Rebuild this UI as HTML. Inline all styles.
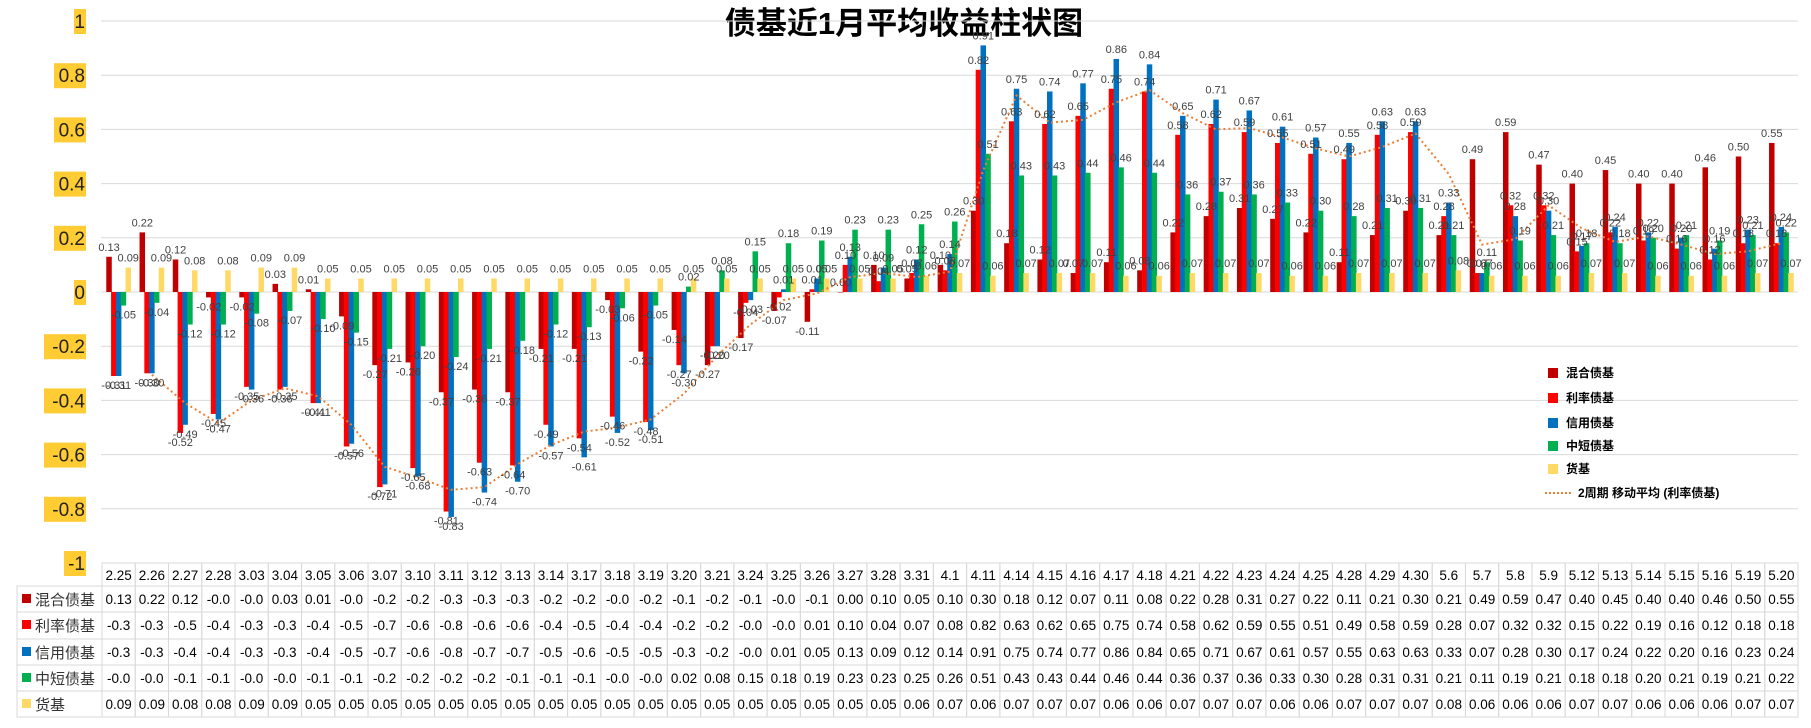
<!DOCTYPE html>
<html><head><meta charset="utf-8"><style>
html,body{margin:0;padding:0;background:#fff;}
svg{display:block;font-family:"Liberation Sans","Noto Sans CJK SC",sans-serif;}
</style></head><body>
<svg id="chart" width="1811" height="728" viewBox="0 0 1811 728" xmlns="http://www.w3.org/2000/svg">
<text x="904" y="34" text-anchor="middle" font-size="31" font-weight="bold" fill="#000">债基近1月平均收益柱状图</text>
<g id="grid"></g><g id="yaxis"></g><g id="bars"></g><g id="ma"></g><g id="labels"></g><g id="table"></g><g id="legend"></g>
</svg>
<script>
const categories=["2.25","2.26","2.27","2.28","3.03","3.04","3.05","3.06","3.07","3.10","3.11","3.12","3.13","3.14","3.17","3.18","3.19","3.20","3.21","3.24","3.25","3.26","3.27","3.28","3.31","4.1","4.11","4.14","4.15","4.16","4.17","4.18","4.21","4.22","4.23","4.24","4.25","4.28","4.29","4.30","5.6","5.7","5.8","5.9","5.12","5.13","5.14","5.15","5.16","5.19","5.20"];
const hunhe=[0.13,0.22,0.12,-0.02,-0.02,0.03,0.01,-0.09,-0.27,-0.26,-0.37,-0.36,-0.37,-0.21,-0.21,-0.03,-0.22,-0.14,-0.27,-0.17,-0.07,-0.11,0.00,0.10,0.05,0.10,0.30,0.18,0.12,0.07,0.11,0.08,0.22,0.28,0.31,0.27,0.22,0.11,0.21,0.30,0.21,0.49,0.59,0.47,0.40,0.45,0.40,0.40,0.46,0.50,0.55];
const lilv=[-0.31,-0.30,-0.52,-0.45,-0.35,-0.36,-0.41,-0.57,-0.72,-0.65,-0.81,-0.63,-0.64,-0.49,-0.54,-0.46,-0.48,-0.27,-0.20,-0.04,-0.02,0.01,0.10,0.04,0.07,0.08,0.82,0.63,0.62,0.65,0.75,0.74,0.58,0.62,0.59,0.55,0.51,0.49,0.58,0.59,0.28,0.07,0.32,0.32,0.15,0.22,0.19,0.16,0.12,0.18,0.18];
const xinyong=[-0.31,-0.30,-0.49,-0.47,-0.36,-0.35,-0.41,-0.56,-0.71,-0.68,-0.83,-0.74,-0.70,-0.57,-0.61,-0.52,-0.51,-0.30,-0.20,-0.03,0.01,0.05,0.13,0.09,0.12,0.14,0.91,0.75,0.74,0.77,0.86,0.84,0.65,0.71,0.67,0.61,0.57,0.55,0.63,0.63,0.33,0.07,0.28,0.30,0.17,0.24,0.22,0.20,0.16,0.23,0.24];
const zhongduan=[-0.05,-0.04,-0.12,-0.12,-0.08,-0.07,-0.10,-0.15,-0.21,-0.20,-0.24,-0.21,-0.18,-0.12,-0.13,-0.06,-0.05,0.02,0.08,0.15,0.18,0.19,0.23,0.23,0.25,0.26,0.51,0.43,0.43,0.44,0.46,0.44,0.36,0.37,0.36,0.33,0.30,0.28,0.31,0.31,0.21,0.11,0.19,0.21,0.18,0.18,0.20,0.21,0.19,0.21,0.22];
const huoji=[0.09,0.09,0.08,0.08,0.09,0.09,0.05,0.05,0.05,0.05,0.05,0.05,0.05,0.05,0.05,0.05,0.05,0.05,0.05,0.05,0.05,0.05,0.05,0.05,0.06,0.07,0.06,0.07,0.07,0.07,0.06,0.06,0.07,0.07,0.07,0.06,0.06,0.07,0.07,0.07,0.08,0.06,0.06,0.06,0.07,0.07,0.06,0.06,0.06,0.07,0.07];
const seriesNames=["混合债基","利率债基","信用债基","中短债基","货基"];
const yTicks=[1,0.8,0.6,0.4,0.2,0,-0.2,-0.4,-0.6,-0.8,-1];
const yTickLabels=["1","0.8","0.6","0.4","0.2","0","-0.2","-0.4","-0.6","-0.8","-1"];

const NS="http://www.w3.org/2000/svg";
const series=[hunhe,lilv,xinyong,zhongduan,huoji];
const colors=["#C00000","#FF0000","#0070C0","#00B050","#FFD966"];
const slugs=["hunhe","lilv","xinyong","zhongduan","huoji"];
const X0=102,X1=1798,CW=(X1-X0)/categories.length;
function y(v){return 292-v*271;}
function xc(i){return X0+CW*(i+0.5);}
function mk(tag,attrs,parent,txt){const e=document.createElementNS(NS,tag);for(const k in attrs)e.setAttribute(k,attrs[k]);if(txt!==undefined)e.textContent=txt;parent.appendChild(e);return e;}
const G=id=>document.getElementById(id);

// grid + y axis
yTicks.forEach((t,i)=>{
  if(t!==-1){const l=mk('line',{x1:101,x2:X1,y1:y(t),y2:y(t),stroke:'#d9d9d9','stroke-width':1},G('grid'));
  
  }
  const lab=yTickLabels[i];const w=lab.length*10+2;
  const r=mk('rect',{x:86-w,y:y(t)-12,width:w,height:25,fill:'#FFCC33'},G('yaxis'));
  
  
  const tx=mk('text',{x:85,y:y(t)+7,'text-anchor':'end','font-size':19,fill:'#222'},G('yaxis'),lab);
  
  
});

// bars
const STEP=4.8,BW=5.5,GW=4*STEP+BW;
series.forEach((s,si)=>{
  s.forEach((v,i)=>{
    const bx=xc(i)-GW/2+si*STEP;
    const y0=y(0),y1=y(v);
    const b=mk('rect',{x:bx,y:Math.min(y0,y1),width:BW,height:Math.max(0.5,Math.abs(y1-y0)),fill:colors[si]},G('bars'));
    
    
    const ly=v>=0?y1-6:y1+13;
    const t=mk('text',{x:bx+BW/2,y:ly,'text-anchor':'middle','font-size':11,fill:'#404040'},G('labels'),v.toFixed(2));
    
    
  });
});

// moving average of lilv (period 2)
let pts=[];
for(let i=1;i<lilv.length;i++){pts.push(xc(i).toFixed(1)+','+y((lilv[i-1]+lilv[i])/2).toFixed(1));}
const ma=mk('polyline',{points:pts.join(' '),fill:'none',stroke:'#ED7D31','stroke-width':2,'stroke-dasharray':'2 3'},G('ma'));



// data table
const T=G('table');
const rowsY=[563,586,612,639,665,691,717];
function cell(x1,y1,x2,y2){const r=mk('rect',{x:x1,y:y1,width:x2-x1,height:y2-y1,fill:'none',stroke:'#d9d9d9','stroke-width':1},T);}
function fmt(v){if(v<0){return '-'+(Math.floor(Math.abs(v)*10+1e-9)/10).toFixed(1);}return v.toFixed(2);}
categories.forEach((c,i)=>{
  const x1=X0+CW*i;cell(x1,rowsY[0],x1+CW,rowsY[1]);
  const h=mk('text',{x:xc(i),y:rowsY[0]+17,'text-anchor':'middle','font-size':13.5,fill:'#000'},T,c);
  
  
  series.forEach((s,si)=>{
    cell(x1,rowsY[si+1],x1+CW,rowsY[si+2]);
    const t=mk('text',{x:xc(i),y:rowsY[si+1]+18,'text-anchor':'middle','font-size':13.5,fill:'#000'},T,fmt(s[i]));
    
    
  });
});
seriesNames.forEach((n,si)=>{
  cell(17,rowsY[si+1],X0,rowsY[si+2]);
  const sq=mk('rect',{x:22,y:rowsY[si+1]+8,width:9,height:9,fill:colors[si]},T);
  
  
  const t=mk('text',{x:35,y:rowsY[si+1]+19,'font-size':15,fill:'#333'},T,n);
  
  
});

// legend
const L=G('legend');
const legY=[373,398,423,446,469,493];
seriesNames.forEach((n,si)=>{
  const r=mk('rect',{x:1548,y:legY[si]-5,width:10,height:10,fill:colors[si]},L);
  
  
  const t=mk('text',{x:1566,y:legY[si]+4,'font-size':12,'font-weight':'bold',fill:'#000'},L,n);
  
  
});
const ml=mk('line',{x1:1545,x2:1572,y1:legY[5],y2:legY[5],stroke:'#ED7D31','stroke-width':2,'stroke-dasharray':'2 2'},L);


const mt=mk('text',{x:1578,y:legY[5]+4,'font-size':12,'font-weight':'bold',fill:'#000'},L,'2周期 移动平均 (利率债基)');


</script>
</body></html>
